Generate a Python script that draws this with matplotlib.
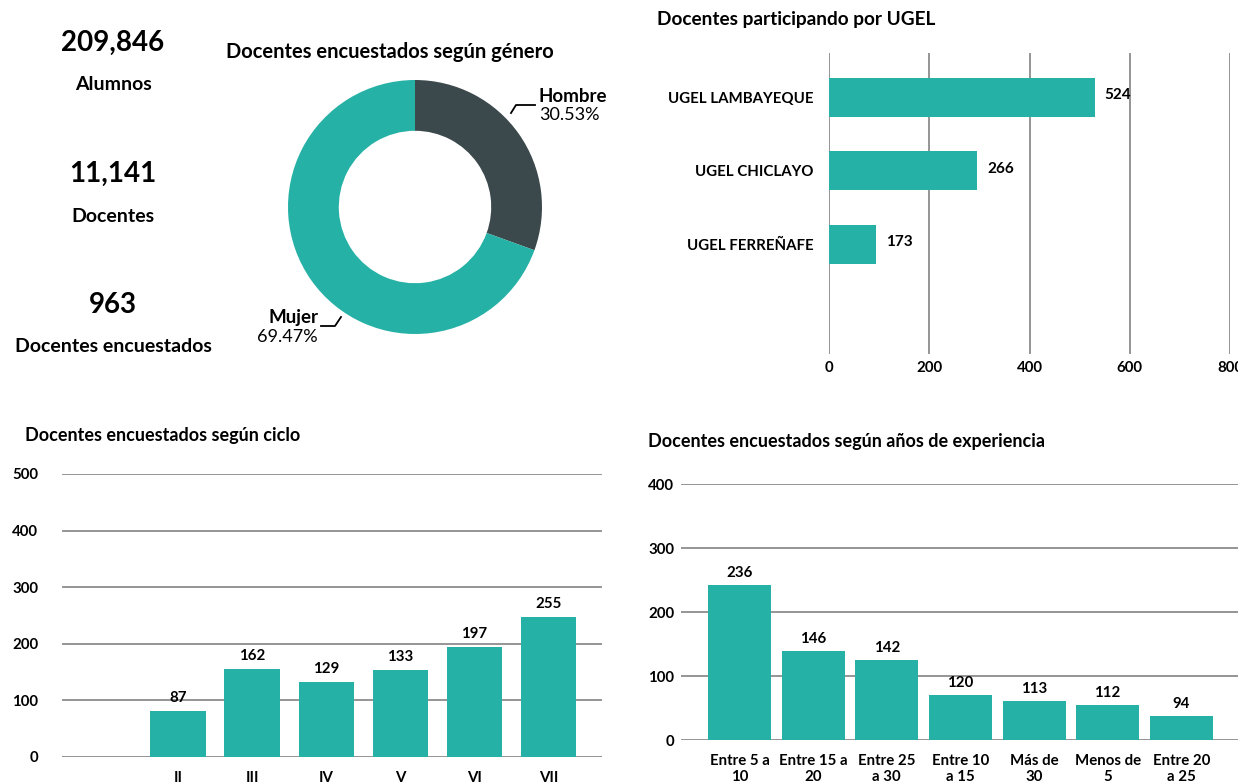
import numpy as np
import matplotlib.pyplot as plt
from matplotlib.lines import Line2D

plt.rcParams['font.family'] = ['Lato', 'DejaVu Sans']
plt.rcParams['font.weight'] = 'bold'

# ---- data ----
kpi_values = ["209,846", "11,141", "963"]
kpi_labels = ["Alumnos", "Docentes", "Docentes encuestados"]

genero = ["Hombre", "Mujer"]
genero_pct = [30.53, 69.47]

ugel = ["UGEL LAMBAYEQUE", "UGEL CHICLAYO", "UGEL FERREÑAFE"]
ugel_bar = [530, 296, 94]
ugel_lbl = [524, 266, 173]

ciclo = ["II", "III", "IV", "V", "VI", "VII"]
ciclo_bar = [82, 156, 132, 153, 195, 247]
ciclo_lbl = [87, 162, 129, 133, 197, 255]

exp_cat = ["Entre 5 a\n10", "Entre 15 a\n20", "Entre 25\na 30", "Entre 10\na 15",
           "Más de\n30", "Menos de\n5", "Entre 20\na 25"]
exp_bar = [242, 139, 125, 70, 61, 55, 37]
exp_lbl = [236, 146, 142, 120, 113, 112, 94]

TEAL = '#26B1A6'
DARK = '#3C494C'
GRID = '#8C8C8C'

W, H = 1238, 784
fig = plt.figure(figsize=(W / 100, H / 100), dpi=100)


def ax_px(l, t, r, b):
    return fig.add_axes([l / W, 1 - b / H, (r - l) / W, (b - t) / H])


def txt(x, y, s, **kw):
    fig.text(x / W, 1 - y / H, s, **kw)


def line_px(xs, ys):
    fig.add_artist(Line2D([x / W for x in xs], [1 - y / H for y in ys],
                          color='black', lw=1.3, transform=fig.transFigure))


# ---- KPIs ----
for i, (v, lab) in enumerate(zip(kpi_values, kpi_labels)):
    y0 = 43 + i * 131
    txt(113, y0, v, ha='center', va='center', fontsize=20, fontweight='bold')
    txt(113, y0 + 42, lab, ha='center', va='center', fontsize=14, fontweight='bold')

# ---- donut ----
txt(390, 52, "Docentes encuestados según género", ha='center', va='center', fontsize=14.5)
ax = ax_px(288, 80, 542, 334)
ax.pie(genero_pct, colors=[DARK, TEAL], startangle=90, counterclock=False,
       wedgeprops=dict(width=0.4, linewidth=0))
ax.set_xlim(-1, 1)
ax.set_ylim(-1, 1)
ax.set_aspect('equal')
ax.axis('off')

txt(539, 96, genero[0], ha='left', va='center', fontsize=13.5)
txt(539, 115, f"{genero_pct[0]:.2f}%", ha='left', va='center', fontsize=13, fontweight='normal')
line_px([511, 516, 535], [113, 105, 105])
txt(318, 318, genero[1], ha='right', va='center', fontsize=13.5)
txt(318, 337, f"{genero_pct[1]:.2f}%", ha='right', va='center', fontsize=13, fontweight='normal')
line_px([321, 335, 341], [326, 326, 317])

# ---- UGEL ----
txt(657, 19, "Docentes participando por UGEL", ha='left', va='center', fontsize=13.7)
ax = ax_px(829, 53, 1230, 354)
yp = np.arange(len(ugel))
ax.barh(yp, ugel_bar, height=0.53, color=TEAL, zorder=3)
for y, w, l in zip(yp, ugel_bar, ugel_lbl):
    ax.annotate(str(l), (w, y), xytext=(10, 2), textcoords='offset pixels',
                ha='left', va='center', fontsize=11)
ax.set_xlim(0, 800)
ax.set_ylim(3.49, -0.605)
ax.set_xticks([0, 200, 400, 600, 800])
ax.set_yticks(yp)
ax.set_yticklabels(ugel)
ax.grid(axis='x', color=GRID, lw=1.3)
ax.tick_params(length=0, labelsize=10.8)
ax.tick_params(axis='y', pad=11)
ax.tick_params(axis='x', pad=5)
for s in ax.spines.values():
    s.set_visible(False)

# ---- ciclo ----
txt(25, 436, "Docentes encuestados según ciclo", ha='left', va='center', fontsize=13)
ax = ax_px(62, 474, 602, 757)
xp = np.arange(1, len(ciclo) + 1)
ax.bar(xp, ciclo_bar, width=0.75, color=TEAL, zorder=3)
for x, h, l in zip(xp, ciclo_bar, ciclo_lbl):
    ax.annotate(str(l), (x, h), xytext=(0, 6), textcoords='offset pixels',
                ha='center', va='bottom', fontsize=10.8)
ax.set_xlim(-0.567, 6.72)
ax.set_ylim(0, 500)
ax.set_yticks(range(0, 501, 100))
ax.set_xticks(xp)
ax.set_xticklabels(ciclo)
ax.grid(axis='y', color=GRID, lw=1.3)
ax.tick_params(length=0, labelsize=10.8)
ax.tick_params(axis='y', pad=17)
ax.tick_params(axis='x', pad=10)
for s in ax.spines.values():
    s.set_visible(False)

# ---- experiencia ----
txt(648, 441, "Docentes encuestados según años de experiencia", ha='left', va='center', fontsize=13)
ax = ax_px(681, 484, 1238, 740)
xp = np.arange(len(exp_cat))
ax.bar(xp, exp_bar, width=0.856, color=TEAL, zorder=3)
for x, h, l in zip(xp, exp_bar, exp_lbl):
    ax.annotate(str(l), (x, h), xytext=(0, 5), textcoords='offset pixels',
                ha='center', va='bottom', fontsize=10.8)
ax.set_xlim(-0.795, 6.77)
ax.set_ylim(0, 400)
ax.set_yticks(range(0, 401, 100))
ax.set_xticks(xp)
ax.set_xticklabels(exp_cat, linespacing=1.15)
ax.grid(axis='y', color=GRID, lw=1.3)
ax.tick_params(length=0, labelsize=10.8)
ax.tick_params(axis='y', pad=5)
ax.tick_params(axis='x', pad=10)
for s in ax.spines.values():
    s.set_visible(False)

fig.savefig('out.png', dpi=100)
